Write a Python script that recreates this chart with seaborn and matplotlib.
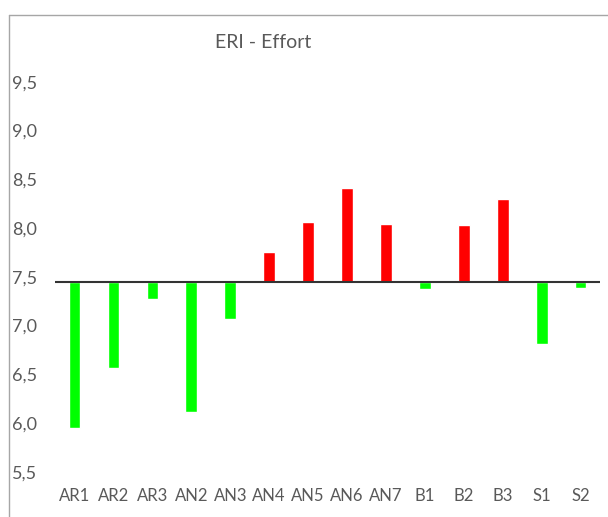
import matplotlib
matplotlib.use("Agg")
import matplotlib.pyplot as plt
import pandas as pd
import seaborn as sns
from matplotlib.lines import Line2D
from matplotlib.ticker import FuncFormatter

categories = ["AR1", "AR2", "AR3", "AN2", "AN3", "AN4", "AN5", "AN6", "AN7",
              "B1", "B2", "B3", "S1", "S2"]
values = [5.95, 6.56, 7.27, 6.11, 7.07, 7.75, 8.06, 8.41, 8.04,
          7.37, 8.03, 8.30, 6.81, 7.38]
baseline = 7.45
y_ticks = [5.5, 6.0, 6.5, 7.0, 7.5, 8.0, 8.5, 9.0, 9.5]

df = pd.DataFrame({"cat": categories, "value": values})
df["delta"] = df["value"] - baseline
df["side"] = ["above" if d > 0 else "below" for d in df["delta"]]

sns.set_style("white")
plt.rcParams["font.family"] = ["Lato", "DejaVu Sans"]

fig = plt.figure(figsize=(6.08, 5.17), dpi=100)
ax = fig.add_axes([0.0905, 0.0876, 0.8965, 0.7544])

sns.barplot(data=df, x="cat", y="delta", hue="side", order=categories,
            palette={"above": "#FF0000", "below": "#00FF00"},
            width=0.3, dodge=False, legend=False, bottom=baseline,
            saturation=1, ax=ax)

ax.axhline(baseline, color="#333333", lw=1.5, zorder=5)
ax.set_xlim(-0.5, len(categories) - 0.5)
ax.set_ylim(5.5, 9.5)
ax.set_yticks(y_ticks)
ax.yaxis.set_major_formatter(FuncFormatter(lambda v, p: f"{v:.1f}".replace(".", ",")))
ax.tick_params(axis="y", length=0, pad=13, labelsize=13, labelcolor="#595959")
ax.tick_params(axis="x", length=0, pad=12, labelsize=12, labelcolor="#595959")
ax.set_xlabel("")
ax.set_ylabel("")
for s in ax.spines.values():
    s.set_visible(False)

fig.text(0.432, 1 - 42.7 / 517, "ERI - Effort", ha="center", va="center",
         fontsize=14, color="#595959")

# chart border (cropped on right and bottom)
fig.add_artist(Line2D([8.5 / 608, 8.5 / 608], [0, 1 - 14.5 / 517],
                      transform=fig.transFigure, color="#A6A6A6", lw=1))
fig.add_artist(Line2D([8.5 / 608, 1], [1 - 14.5 / 517, 1 - 14.5 / 517],
                      transform=fig.transFigure, color="#A6A6A6", lw=1))

fig.savefig("out.png", dpi=100)
